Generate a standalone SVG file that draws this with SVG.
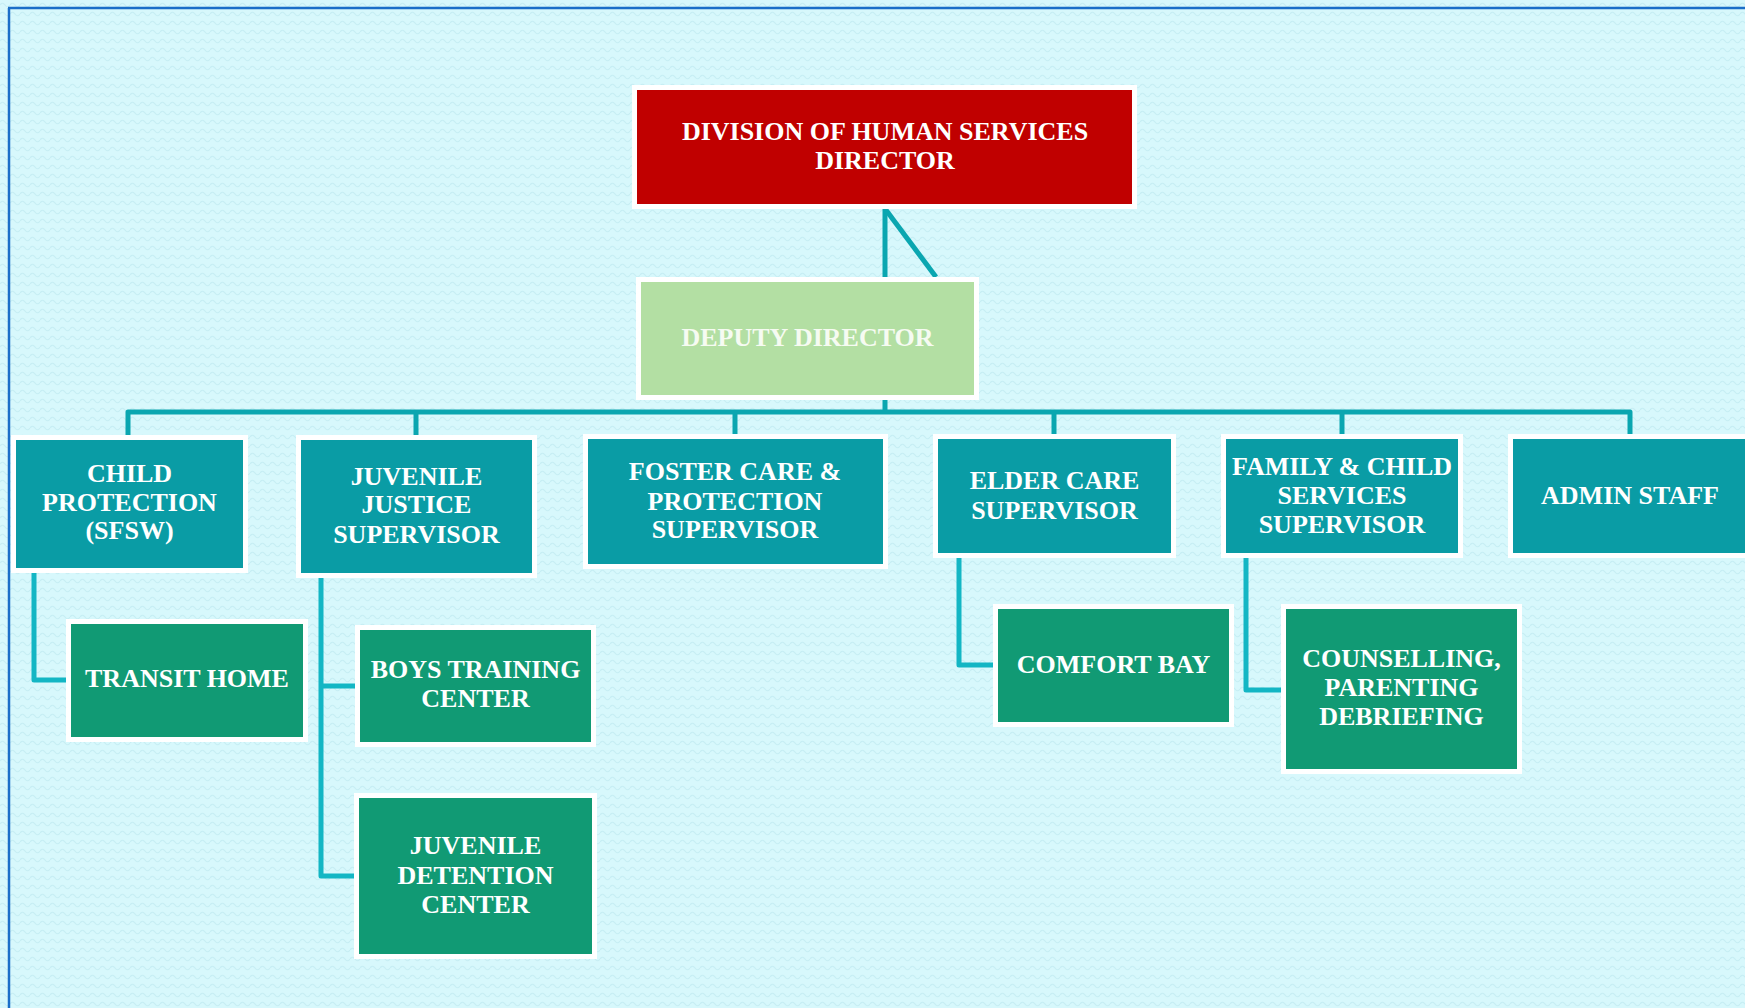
<svg xmlns="http://www.w3.org/2000/svg" width="1745" height="1008" viewBox="0 0 1745 1008">
  <defs>
    <pattern id="wave" x="0" y="0" width="10" height="9" patternUnits="userSpaceOnUse">
      <rect width="10" height="9" fill="#d7f8fc"/>
      <path d="M0,5 Q2.5,1.5 5,5 T10,5" fill="none" stroke="#c6eef4" stroke-width="1.2"/>
    </pattern>
    <style>
      .box { stroke: #ffffff; stroke-width: 5; }
      .teal { fill: #0a9ca5; }
      .green { fill: #119a74; }
      .red { fill: #c00000; }
      .lime { fill: #b3dfa3; }
      .t { font-family: "Liberation Serif", "Times New Roman", serif; font-weight: bold; font-size: 26px; fill: #ffffff; text-anchor: middle; }
      .conn { fill: none; stroke: #0aa6b0; stroke-width: 5; stroke-linejoin: round; }
      .sub { fill: none; stroke: #13b6c4; stroke-width: 5; stroke-linejoin: round; }
    </style>
  </defs>

  <rect x="0" y="0" width="1745" height="1008" fill="url(#wave)"/>
  <path d="M8,8 H1745" stroke="#1b6ec8" stroke-width="2.5"/>
  <path d="M9,8 V1008" stroke="#1b6ec8" stroke-width="2.5"/>

  <g id="connectors">
    <path class="conn" d="M885,209 V277"/>
    <path class="conn" d="M886,210 L936,277"/>
    <path class="conn" d="M885,400 V412"/>
    <path class="conn" d="M128,436 V412 H1630 V436"/>
    <path class="conn" d="M416,412 V436"/>
    <path class="conn" d="M735,412 V435"/>
    <path class="conn" d="M1054,412 V435"/>
    <path class="conn" d="M1342,412 V435"/>
    <path class="sub" d="M34,573 V680 H67"/>
    <path class="sub" d="M321,578 V876 H355"/>
    <path class="sub" d="M321,686 H356"/>
    <path class="sub" d="M959,558 V665 H994"/>
    <path class="sub" d="M1246,558 V690 H1282"/>
  </g>

  <g id="director">
    <rect class="box red" x="634.5" y="87.5" width="500" height="119"/>
    <text class="t" x="885" y="140">DIVISION OF HUMAN SERVICES</text>
    <text class="t" x="885" y="169">DIRECTOR</text>
  </g>

  <g id="deputy">
    <rect class="box lime" x="638.5" y="279.5" width="338" height="118"/>
    <text class="t" x="807.5" y="346" style="fill:#f6fbf2">DEPUTY DIRECTOR</text>
  </g>

  <g id="child-protection">
    <rect class="box teal" x="13.5" y="437.5" width="232" height="133"/>
    <text class="t" x="129.5" y="482">CHILD</text>
    <text class="t" x="129.5" y="511">PROTECTION</text>
    <text class="t" x="129.5" y="539">(SFSW)</text>
  </g>

  <g id="juvenile-justice">
    <rect class="box teal" x="298.5" y="437.5" width="236" height="138"/>
    <text class="t" x="416.5" y="485">JUVENILE</text>
    <text class="t" x="416.5" y="513">JUSTICE</text>
    <text class="t" x="416.5" y="543">SUPERVISOR</text>
  </g>

  <g id="foster-care">
    <rect class="box teal" x="585.5" y="436.5" width="300" height="130"/>
    <text class="t" x="735" y="480">FOSTER CARE &amp;</text>
    <text class="t" x="735" y="510">PROTECTION</text>
    <text class="t" x="735" y="538">SUPERVISOR</text>
  </g>

  <g id="elder-care">
    <rect class="box teal" x="935.5" y="436.5" width="238" height="119"/>
    <text class="t" x="1054.5" y="489">ELDER CARE</text>
    <text class="t" x="1054.5" y="519">SUPERVISOR</text>
  </g>

  <g id="family-child">
    <rect class="box teal" x="1223.5" y="436.5" width="237" height="119"/>
    <text class="t" x="1342" y="475">FAMILY &amp; CHILD</text>
    <text class="t" x="1342" y="504">SERVICES</text>
    <text class="t" x="1342" y="533">SUPERVISOR</text>
  </g>

  <g id="admin-staff">
    <rect class="box teal" x="1510.5" y="436.5" width="240" height="119"/>
    <text class="t" x="1630" y="504">ADMIN STAFF</text>
  </g>

  <g id="transit-home">
    <rect class="box green" x="68.5" y="621.5" width="237" height="118"/>
    <text class="t" x="187" y="687">TRANSIT HOME</text>
  </g>

  <g id="boys-training">
    <rect class="box green" x="357.5" y="627.5" width="236" height="117"/>
    <text class="t" x="475.5" y="678">BOYS TRAINING</text>
    <text class="t" x="475.5" y="707">CENTER</text>
  </g>

  <g id="juvenile-detention">
    <rect class="box green" x="356.5" y="795.5" width="238" height="161"/>
    <text class="t" x="475.5" y="854">JUVENILE</text>
    <text class="t" x="475.5" y="884">DETENTION</text>
    <text class="t" x="475.5" y="913">CENTER</text>
  </g>

  <g id="comfort-bay">
    <rect class="box green" x="995.5" y="606.5" width="236" height="118"/>
    <text class="t" x="1113.5" y="673">COMFORT BAY</text>
  </g>

  <g id="counselling">
    <rect class="box green" x="1283.5" y="606.5" width="236" height="165"/>
    <text class="t" x="1401.5" y="667">COUNSELLING,</text>
    <text class="t" x="1401.5" y="696">PARENTING</text>
    <text class="t" x="1401.5" y="725">DEBRIEFING</text>
  </g>
</svg>
